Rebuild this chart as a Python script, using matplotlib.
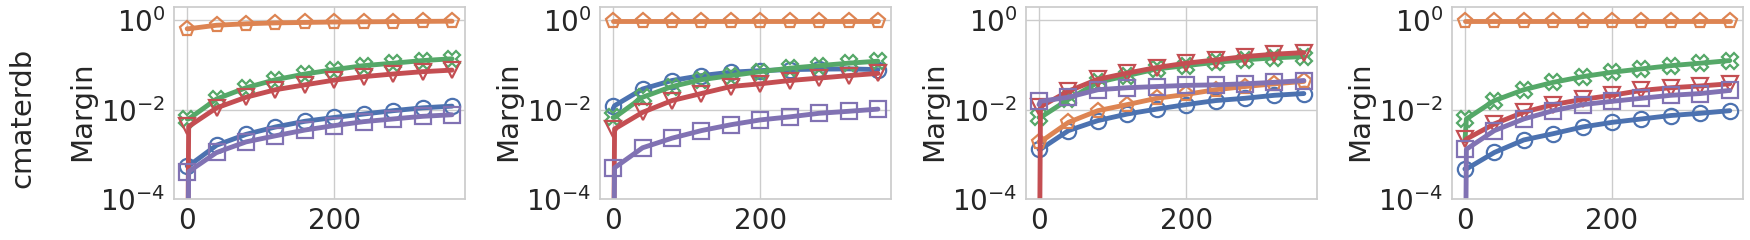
import numpy as np
import matplotlib
matplotlib.use("Agg")
import matplotlib.pyplot as plt
import seaborn as sns

# x positions: first point is the start of the run, markers from index 1 on
STEPS = [0, 2, 40, 80, 120, 160, 200, 240, 280, 320, 360]
MARK_STEPS = [0, 40, 80, 120, 160, 200, 240, 280, 320, 360]

ROW_LABEL = "cmaterdb"
Y_LABEL = "Margin"
TINY = 1e-7  # curve starting at ~0, falls off the log axis

# panel 1
p1_blue = [5.5e-4, 5.5e-4, 0.0016, 0.0028, 0.0041, 0.0055, 0.0067, 0.0080, 0.0095, 0.011, 0.012]
p1_orange = [0.65, 0.65, 0.78, 0.84, 0.88, 0.90, 0.92, 0.93, 0.94, 0.95, 0.96]
p1_green = [0.0062, 0.0062, 0.0174, 0.031, 0.047, 0.063, 0.079, 0.097, 0.11, 0.126, 0.138]
p1_red = [TINY, 0.0042, 0.011, 0.019, 0.028, 0.036, 0.046, 0.055, 0.063, 0.071, 0.077]
p1_purple = [TINY, 4.1e-4, 0.0011, 0.0019, 0.0026, 0.0035, 0.0044, 0.0054, 0.0062, 0.0071, 0.0077]

# panel 2
p2_blue = [0.0105, 0.0123, 0.029, 0.045, 0.058, 0.069, 0.075, 0.079, 0.081, 0.082, 0.079]
p2_orange = [0.98, 0.98, 0.98, 0.98, 0.98, 0.98, 0.98, 0.98, 0.98, 0.98, 0.98]
p2_green = [0.0067, 0.0067, 0.019, 0.033, 0.047, 0.058, 0.071, 0.085, 0.097, 0.11, 0.122]
p2_red = [TINY, 0.0037, 0.0087, 0.016, 0.023, 0.033, 0.038, 0.045, 0.051, 0.058, 0.065]
p2_purple = [TINY, 5e-4, 0.0014, 0.0023, 0.0034, 0.0046, 0.0059, 0.0069, 0.0083, 0.0092, 0.0103]

# panel 3
p3_blue = [0.0013, 0.0013, 0.0034, 0.0057, 0.008, 0.0103, 0.013, 0.016, 0.018, 0.021, 0.023]
p3_orange = [0.0019, 0.0019, 0.0052, 0.0095, 0.013, 0.018, 0.022, 0.028, 0.033, 0.038, 0.043]
p3_green = [0.0067, 0.0067, 0.017, 0.041, 0.058, 0.082, 0.097, 0.115, 0.131, 0.145, 0.155]
p3_red = [TINY, 0.0117, 0.026, 0.048, 0.066, 0.088, 0.11, 0.13, 0.155, 0.175, 0.19]
p3_purple = [0.013, 0.0154, 0.019, 0.028, 0.031, 0.033, 0.035, 0.036, 0.038, 0.041, 0.045]

# panel 4
p4_blue = [4.7e-4, 4.7e-4, 0.0011, 0.0021, 0.0029, 0.0041, 0.0052, 0.0062, 0.0074, 0.0083, 0.0095]
p4_orange = [0.98, 0.98, 0.98, 0.98, 0.98, 0.98, 0.98, 0.98, 0.98, 0.98, 0.98]
p4_green = [0.002, 0.0062, 0.016, 0.028, 0.041, 0.055, 0.069, 0.082, 0.097, 0.11, 0.126]
p4_red = [0.002, 0.0022, 0.0048, 0.0088, 0.013, 0.017, 0.021, 0.027, 0.031, 0.034, 0.038]
p4_purple = [TINY, 0.0013, 0.0034, 0.0062, 0.0095, 0.013, 0.0154, 0.018, 0.021, 0.023, 0.027]

PANELS = [
    [p1_blue, p1_orange, p1_green, p1_red, p1_purple],
    [p2_blue, p2_orange, p2_green, p2_red, p2_purple],
    [p3_blue, p3_orange, p3_green, p3_red, p3_purple],
    [p4_blue, p4_orange, p4_green, p4_red, p4_purple],
]
MARKERS = ["o", "p", "X", "v", "s"]

sns.set_theme(style="whitegrid")
plt.rcParams["font.family"] = ["DejaVu Sans"]
colors = sns.color_palette("deep")

fig, axes = plt.subplots(1, 4, figsize=(17.5, 2.4), dpi=100)
fig.subplots_adjust(left=0.0994, right=0.996, bottom=0.171, top=0.971, wspace=0.462)

for ax, series in zip(axes, PANELS):
    for i, vals in enumerate(series):
        ax.plot(STEPS, vals, color=colors[i], lw=3.5, solid_capstyle="round")
        ax.plot(MARK_STEPS, vals[1:], ls="none", marker=MARKERS[i],
                markersize=11, markerfacecolor="none", markeredgecolor=colors[i],
                markeredgewidth=1.6)
    ax.set_yscale("log")
    ax.set_ylim(1e-4, 2)
    ax.set_yticks([1e-4, 1e-2, 1])
    ax.minorticks_off()
    ax.set_xticks([0, 200])
    ax.tick_params(labelsize=20, pad=6, length=0)
    ax.set_ylabel(Y_LABEL, fontsize=21, labelpad=3)
    ax.yaxis.label.set_y(0.458)
    for s in ax.spines.values():
        s.set_color("#cccccc")

fig.text(0.013, 0.51, ROW_LABEL, rotation=90, fontsize=21, ha="center", va="center",
         color="#262626")

fig.savefig("out.png", dpi=100)
